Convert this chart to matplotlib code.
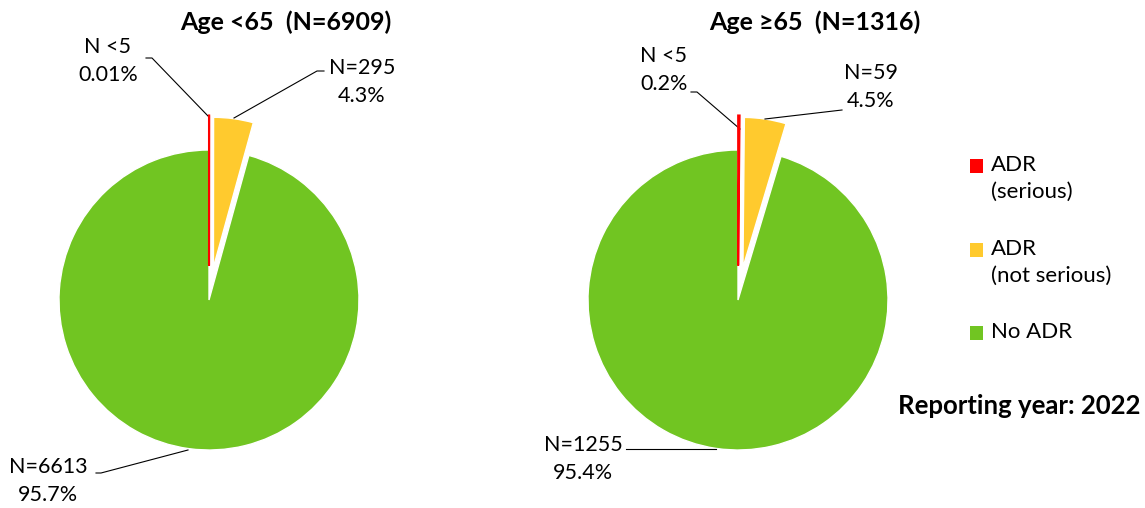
import matplotlib.pyplot as plt
from matplotlib.patches import Rectangle

plt.rcParams["font.family"] = ["Lato", "DejaVu Sans"]

# ---- Data ----
categories = ["ADR\n(serious)", "ADR\n(not serious)", "No ADR"]
colors = ["#FF0000", "#FFCA2E", "#71C522"]

under65_counts = [1, 295, 6613]
under65_labels = ["N <5\n0.01%", "N=295\n4.3%", "N=6613\n95.7%"]

over65_counts = [2, 59, 1255]
over65_labels = ["N <5\n0.2%", "N=59\n4.5%", "N=1255\n95.4%"]

W, H = 1145, 508
R = 150  # pie radius in pixels


def to_data(px, py, cx, cy):
    return (px - cx) / R, (cy - py) / R


def draw_pie(ax, counts, labels, title, cx, cy, left, right, title_x,
             label_spec):
    wedges, _ = ax.pie(
        counts, colors=colors, startangle=90, counterclock=False,
        explode=[0.23, 0.22, 0], radius=1,
        wedgeprops=dict(edgecolor="white", linewidth=1),
    )
    wedges[0].set_edgecolor(colors[0])
    wedges[0].set_linewidth(1.5)
    wedges[0].set_zorder(3)

    # pixel-true limits: 1 data unit = R pixels, centre at (cx, cy)
    ax.set_aspect("auto")
    ax.set_xlim((left - cx) / R, (right - cx) / R)
    ax.set_ylim((cy - H) / R, cy / R)
    ax.axis("off")

    tx, ty = to_data(title_x, 22, cx, cy)
    ax.text(tx, ty, title, ha="center", va="center", fontsize=18,
            fontweight="bold")

    for text, (lx, ly, path) in zip(labels, label_spec):
        x, y = to_data(lx, ly, cx, cy)
        ax.text(x, y, text, ha="center", va="center", fontsize=15.5,
                linespacing=1.45)
        pts = [to_data(px, py, cx, cy) for px, py in path]
        ax.plot([p[0] for p in pts], [p[1] for p in pts], color="black",
                linewidth=0.8, clip_on=False)


fig = plt.figure(figsize=(W / 100, H / 100), dpi=100)

ax1 = fig.add_axes([0, 0, 560 / W, 1])
draw_pie(ax1, under65_counts, under65_labels, "Age <65  (N=6909)", 209, 300,
         0, 560, 286, [
             (108, 61, [(146, 58), (152, 58), (208, 116)]),
             (362, 82, [(324, 71), (317, 71), (234, 118)]),
             (48, 481, [(96, 473), (101, 473), (188, 450)]),
         ])

ax2 = fig.add_axes([560 / W, 0, 385 / W, 1])
draw_pie(ax2, over65_counts, over65_labels, "Age \u226565  (N=1316)", 738, 300,
         560, 945, 815, [
             (664, 70, [(691, 92), (697, 92), (740, 129)]),
             (871, 87, [(842, 110), (765, 119)]),
             (583, 459, [(626, 449), (716, 449)]),
         ])

# ---- Legend (square beside the first line of each entry) ----
legend_rows = [166, 250, 333]
for cat, col, y in zip(categories, colors, legend_rows):
    fig.patches.append(Rectangle((970 / W, 1 - (y + 7) / H), 13 / W, 14 / H,
                                 transform=fig.transFigure, facecolor=col,
                                 edgecolor="none"))
    fig.text(991 / W, 1 - (y - 11) / H, cat, ha="left", va="top",
             fontsize=16, linespacing=1.4)

fig.text(1140 / W, 1 - 406 / H, "Reporting year: 2022", ha="right",
         va="center", fontsize=18.5, fontweight="bold")

fig.savefig("out.png", dpi=100)
